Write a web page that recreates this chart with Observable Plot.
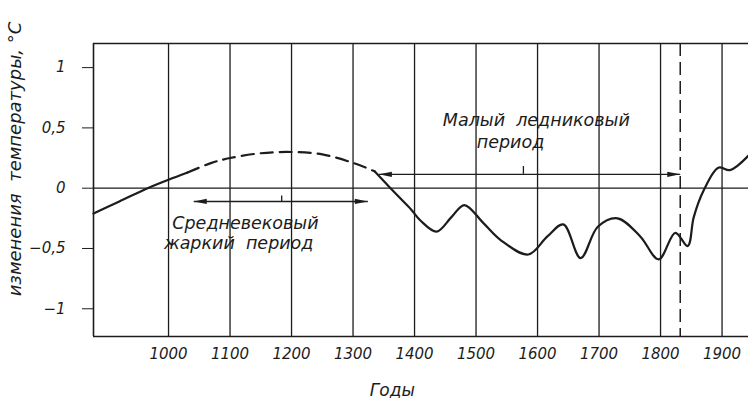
<!DOCTYPE html>
<html>
<head>
<meta charset="utf-8">
<script src="https://cdn.jsdelivr.net/npm/d3@7"></script>
<script src="https://cdn.jsdelivr.net/npm/@observablehq/plot@0.6"></script>
<style>
  html, body { margin: 0; padding: 0; background: #fff; }
  #chart svg { display: block; }
</style>
</head>
<body>
<div id="chart"></div>
<script>
// ---- data ----
const xTicks = [1000, 1100, 1200, 1300, 1400, 1500, 1600, 1700, 1800, 1900];
const yTicks = [-1, -0.5, 0, 0.5, 1];
const yTickLabels = ["\u22121", "\u22120,5", "0", "0,5", "1"];

const earlyYears  = [878, 920, 966, 1000, 1031];
const earlyValues = [-0.21, -0.11, 0, 0.07, 0.13];

const warmYears  = [1031, 1070, 1100, 1150, 1200, 1250, 1300, 1335];
const warmValues = [0.13, 0.21, 0.25, 0.29, 0.30, 0.28, 0.21, 0.14];

const lateYears  = [1335, 1361, 1376, 1395, 1410, 1436, 1460, 1481, 1512, 1540, 1585, 1616, 1642, 1670, 1698, 1730, 1767, 1797, 1824, 1844, 1854, 1870, 1894, 1913, 1943];
const lateValues = [0.14, 0, -0.08, -0.18, -0.27, -0.36, -0.24, -0.14, -0.29, -0.43, -0.55, -0.40, -0.30, -0.58, -0.32, -0.25, -0.40, -0.59, -0.37, -0.48, -0.24, -0.02, 0.17, 0.15, 0.27];

const dashedYear = 1832;

const medievalSpan = [1041, 1324];
const medievalLevel = -0.11;
const medievalMid = 1184;

const iceSpan = [1342, 1832];
const iceLevel = 0.115;
const iceMid = 1577;

const annotationTexts  = ["Средневековый", "жаркий\u00a0\u00a0период", "Малый\u00a0\u00a0ледниковый", "период"];
const annotationYears  = [1125, 1114, 1598, 1556];
const annotationValues = [-0.29, -0.455, 0.56, 0.38];

const xDomain = [878, 1943];
const yDomain = [-1.23, 1.2];

const xLabel = "Годы";
const xLabelYear = 1364;
const yLabel = "изменения\u00a0\u00a0температуры,\u00a0°C";

// ---- tables ----
const toPts = (xs, ys) => xs.map((x, i) => ({x, y: ys[i]}));
const early = toPts(earlyYears, earlyValues);
const warm = toPts(warmYears, warmValues);
const late = toPts(lateYears, lateValues);

const spans = [
  {x1: medievalSpan[0], x2: medievalSpan[1], y: medievalLevel},
  {x1: iceSpan[0], x2: iceSpan[1], y: iceLevel}
];
const heads = [
  {x: medievalSpan[0], y: medievalLevel, r: 180},
  {x: medievalSpan[1], y: medievalLevel, r: 0},
  {x: iceSpan[0], y: iceLevel, r: 180},
  {x: iceSpan[1], y: iceLevel, r: 0}
];
const mids = [
  {x: medievalMid, y1: medievalLevel, y2: medievalLevel + 0.045},
  {x: iceMid, y1: iceLevel, y2: iceLevel + 0.065}
];
const annotations = annotationTexts.map((t, i) => ({t, x: annotationYears[i], y: annotationValues[i]}));

const ink = "#1c1c1c";
const arrowHead = {
  draw(ctx) {
    ctx.moveTo(0, 0);
    ctx.lineTo(-13, -2.6);
    ctx.lineTo(-13, 2.6);
    ctx.closePath();
  }
};

const chart = Plot.plot({
  width: 748,
  height: 398,
  marginLeft: 93,
  marginRight: 0,
  marginTop: 43,
  marginBottom: 62,
  style: {
    fontFamily: "'DejaVu Sans', sans-serif",
    fontStyle: "italic",
    fontSize: "15px",
    color: ink,
    background: "#fff"
  },
  x: {
    domain: xDomain,
    ticks: xTicks,
    tickSize: 0,
    tickPadding: 12,
    tickFormat: d => String(d),
    label: null
  },
  y: {
    domain: yDomain,
    ticks: yTicks,
    tickSize: 11,
    tickPadding: 17,
    tickFormat: d => yTickLabels[yTicks.indexOf(d)],
    label: null
  },
  marks: [
    Plot.ruleX(xTicks, {stroke: ink, strokeWidth: 1.3}),
    Plot.ruleX([dashedYear], {stroke: ink, strokeWidth: 1.5, strokeDasharray: "13,6"}),
    Plot.ruleY([0], {stroke: ink, strokeWidth: 1.3}),
    Plot.ruleY(yDomain, {stroke: ink, strokeWidth: 1.6}),
    Plot.ruleX([xDomain[0]], {stroke: ink, strokeWidth: 1.6}),
    Plot.line(early, {x: "x", y: "y", curve: "catmull-rom", stroke: ink, strokeWidth: 2.2}),
    Plot.line(warm, {x: "x", y: "y", curve: "catmull-rom", stroke: ink, strokeWidth: 2.2, strokeDasharray: "12,7"}),
    Plot.line(late, {x: "x", y: "y", curve: "catmull-rom", stroke: ink, strokeWidth: 2.2}),
    Plot.link(spans, {x1: "x1", x2: "x2", y1: "y", y2: "y", stroke: ink, strokeWidth: 1.4}),
    Plot.dot(heads, {x: "x", y: "y", rotate: "r", symbol: arrowHead, fill: ink, stroke: "none"}),
    Plot.ruleX(mids, {x: "x", y1: "y1", y2: "y2", stroke: ink, strokeWidth: 1.3}),
    Plot.text(annotations, {x: "x", y: "y", text: "t", fontSize: 17.5, fill: ink, ariaLabel: "annotation"}),
    Plot.text([xLabel], {x: xLabelYear, frameAnchor: "bottom", dy: 59, fontSize: 17, fill: ink, ariaLabel: "annotation"}),
    Plot.text([yLabel], {frameAnchor: "left", textAnchor: "middle", rotate: -90, dx: -78, dy: -31, fontSize: 18, fill: ink, ariaLabel: "ylabel"})
  ]
});

chart.querySelectorAll('g[aria-label="annotation"] text').forEach(t => {
  t.setAttribute("letter-spacing", "1.8");
  t.style.whiteSpace = "pre";
});
chart.querySelectorAll('g[aria-label="ylabel"] text').forEach(t => {
  t.setAttribute("letter-spacing", "2.2");
  t.style.whiteSpace = "pre";
});

document.getElementById("chart").appendChild(chart);
</script>
</body>
</html>
